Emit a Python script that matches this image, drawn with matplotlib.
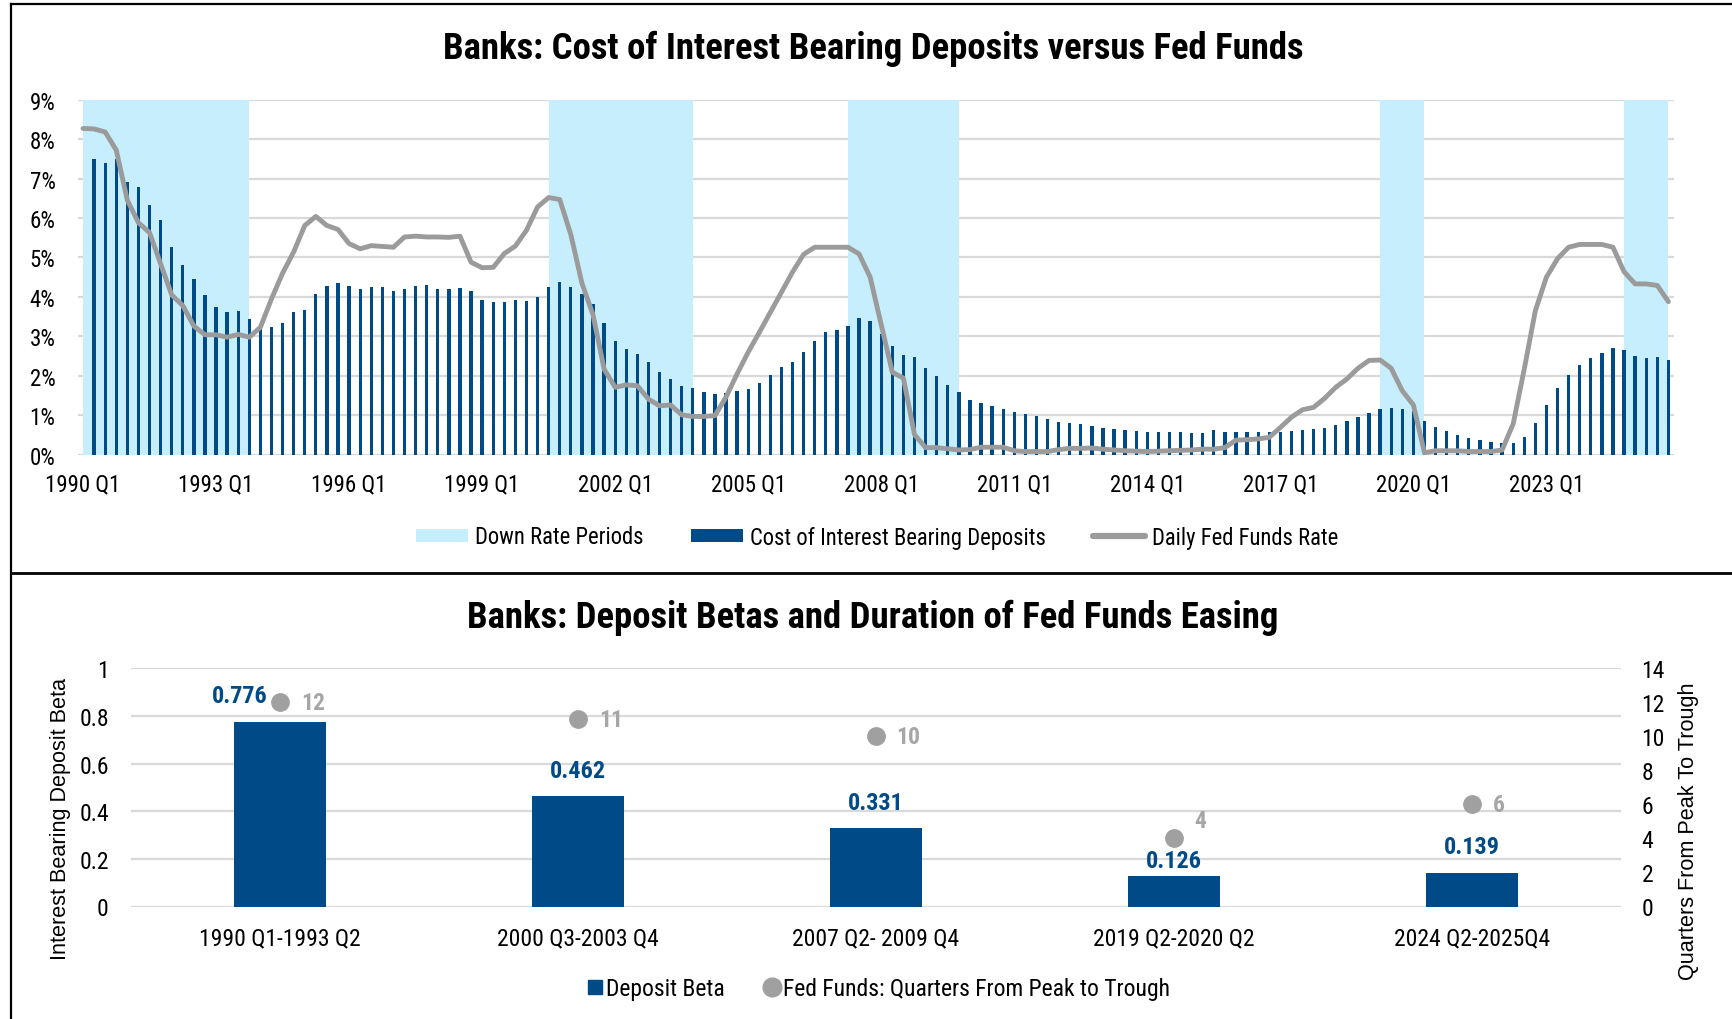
import numpy as np
import matplotlib
matplotlib.use("Agg")
import matplotlib.pyplot as plt
from matplotlib import font_manager as fm
from matplotlib.patches import Patch
from matplotlib.lines import Line2D

# ---------------- data ----------------
years = list(range(1990, 2026))
quarters = [f"{y} Q{q}" for y in years for q in range(1, 5)]

# Daily fed funds rate, quarterly average (%)
fed_funds = [
    8.27, 8.26, 8.18, 7.72, 6.45, 5.88, 5.63, 4.84, 4.05, 3.78,
    3.26, 3.04, 3.04, 2.98, 3.05, 2.98, 3.23, 3.95, 4.60, 5.14,
    5.81, 6.04, 5.81, 5.71, 5.35, 5.22, 5.30, 5.28, 5.26, 5.52,
    5.54, 5.52, 5.52, 5.51, 5.54, 4.88, 4.74, 4.75, 5.10, 5.29,
    5.69, 6.28, 6.52, 6.47, 5.58, 4.35, 3.55, 2.17, 1.71, 1.77,
    1.75, 1.41, 1.24, 1.26, 1.01, 0.97, 0.97, 0.99, 1.46, 2.05,
    2.60, 3.10, 3.61, 4.12, 4.63, 5.08, 5.26, 5.26, 5.26, 5.26,
    5.09, 4.50, 3.30, 2.09, 1.94, 0.51, 0.18, 0.18, 0.15, 0.12,
    0.13, 0.19, 0.19, 0.19, 0.10, 0.08, 0.08, 0.08, 0.13, 0.16,
    0.16, 0.17, 0.14, 0.12, 0.10, 0.09, 0.08, 0.09, 0.10, 0.11,
    0.12, 0.14, 0.14, 0.18, 0.37, 0.38, 0.40, 0.44, 0.69, 0.95,
    1.14, 1.20, 1.43, 1.71, 1.92, 2.19, 2.39, 2.40, 2.19, 1.62,
    1.26, 0.05, 0.10, 0.10, 0.10, 0.08, 0.08, 0.08, 0.12, 0.78,
    2.17, 3.65, 4.50, 4.97, 5.26, 5.33, 5.33, 5.33, 5.26, 4.64,
    4.33, 4.33, 4.29, 3.88,
]

# Cost of interest bearing deposits (%); no value for the first quarter
deposit_cost = [
    np.nan, 7.50, 7.39, 7.50, 6.92, 6.78, 6.34, 5.96, 5.27, 4.81,
    4.45, 4.05, 3.75, 3.63, 3.65, 3.43, 3.20, 3.24, 3.34, 3.63,
    3.68, 4.08, 4.27, 4.36, 4.28, 4.21, 4.24, 4.25, 4.14, 4.21,
    4.28, 4.31, 4.19, 4.20, 4.23, 4.15, 3.91, 3.87, 3.87, 3.91,
    3.90, 4.00, 4.24, 4.37, 4.26, 4.08, 3.82, 3.34, 2.87, 2.67,
    2.55, 2.35, 2.09, 1.92, 1.75, 1.68, 1.58, 1.54, 1.57, 1.62,
    1.66, 1.83, 2.02, 2.23, 2.36, 2.61, 2.89, 3.12, 3.17, 3.27,
    3.47, 3.38, 3.05, 2.75, 2.54, 2.47, 2.19, 1.99, 1.77, 1.58,
    1.39, 1.31, 1.23, 1.16, 1.07, 1.02, 0.97, 0.91, 0.84, 0.81,
    0.77, 0.73, 0.67, 0.64, 0.63, 0.60, 0.58, 0.58, 0.58, 0.58,
    0.55, 0.55, 0.63, 0.58, 0.57, 0.57, 0.58, 0.58, 0.58, 0.60,
    0.63, 0.65, 0.67, 0.75, 0.86, 0.96, 1.05, 1.15, 1.18, 1.16,
    1.10, 0.85, 0.71, 0.61, 0.50, 0.42, 0.37, 0.33, 0.29, 0.30,
    0.45, 0.80, 1.25, 1.70, 2.03, 2.28, 2.46, 2.59, 2.70, 2.65,
    2.51, 2.45, 2.48, 2.40,
]

# Fed easing periods (first and last quarter shaded)
down_rate_start = ["1990 Q1", "2000 Q3", "2007 Q2", "2019 Q2", "2024 Q4"]
down_rate_end = ["1993 Q4", "2003 Q4", "2009 Q4", "2020 Q2", "2025 Q4"]

# Deposit betas by easing cycle
cycles = ["1990 Q1-1993 Q2", "2000 Q3-2003 Q4", "2007 Q2- 2009 Q4",
          "2019 Q2-2020 Q2", "2024 Q2-2025Q4"]
deposit_beta = [0.776, 0.462, 0.331, 0.126, 0.139]
quarters_peak_to_trough = [12, 11, 10, 4, 6]

x_tick_labels = [f"{y} Q1" for y in range(1990, 2024, 3)]

# ---------------- style ----------------
names = {f.name for f in fm.fontManager.ttflist}
narrow = next((n for n in ["Liberation Sans Narrow", "Arial Narrow",
                           "Roboto Condensed", "Liberation Sans"] if n in names),
              "DejaVu Sans")
regular = "Liberation Sans" if "Liberation Sans" in names else "DejaVu Sans"
plt.rcParams["font.family"] = [narrow, "DejaVu Sans"]

NAVY = "#004B87"
SKY = "#C6EEFC"
GREY_LINE = "#9B9B9B"
GRID = "#D9D9D9"
DOT = "#A0A0A0"

W, H = 1733, 1020
fig = plt.figure(figsize=(W / 100, H / 100), dpi=100)


def box(left, top, right, bottom):
    return [left / W, 1 - bottom / H, (right - left) / W, (bottom - top) / H]


def style_axes(ax):
    for s in ax.spines.values():
        s.set_visible(False)
    ax.tick_params(length=0, colors="black")
    ax.set_axisbelow(True)
    ax.grid(axis="y", color=GRID, lw=1.6)
    ax.grid(axis="x", visible=False)


# ---------------- top panel ----------------
ax1 = fig.add_axes(box(77.7, 100.7, 1673.7, 455.7))
style_axes(ax1)
idx = np.arange(len(quarters))
pos = {q: i for i, q in enumerate(quarters)}

for s, e in zip(down_rate_start, down_rate_end):
    ax1.axvspan(pos[s], pos[e], ymin=0, ymax=1, color=SKY, lw=0, zorder=1)
ax1.bar(idx, deposit_cost, width=0.3, color=NAVY, zorder=2)
ax1.plot(idx, fed_funds, color=GREY_LINE, lw=3.5, zorder=3,
         solid_joinstyle="round", solid_capstyle="round")

ax1.set_xlim(-0.48, len(quarters) - 0.52)
ax1.set_ylim(0, 9)
ax1.set_yticks(range(0, 10))
ax1.set_yticklabels([f"{v}%" for v in range(0, 10)], fontsize=16.5)
ax1.set_xticks([pos[t] for t in x_tick_labels])
ax1.set_xticklabels(x_tick_labels, fontsize=16.5)
ax1.tick_params(axis="y", pad=16)
ax1.tick_params(axis="x", pad=13)

fig.text(873 / W, 1 - 49 / H,
         "Banks: Cost of Interest Bearing Deposits versus Fed Funds",
         ha="center", va="center", fontsize=26.5, fontweight="bold")

top_handles = [
    Patch(facecolor=SKY, edgecolor="none", label="Down Rate Periods"),
    Patch(facecolor=NAVY, edgecolor="none", label="Cost of Interest Bearing Deposits"),
    Line2D([], [], color=GREY_LINE, lw=4.5, solid_capstyle="round",
           label="Daily Fed Funds Rate"),
]
fig.legend(handles=top_handles, loc="center", bbox_to_anchor=(877 / W, 1 - 538 / H),
           ncol=3, frameon=False, fontsize=16.3, handlelength=2.3, handleheight=0.55,
           handletextpad=0.3, columnspacing=2.1, borderpad=0)

# ---------------- bottom panel ----------------
ax2 = fig.add_axes(box(131, 669.3, 1620.7, 907.5))
style_axes(ax2)
cx = np.arange(len(cycles))
ax2.bar(cx, deposit_beta, width=0.31, color=NAVY, zorder=2)
ax2.set_xlim(-0.5, len(cycles) - 0.5)
ax2.set_ylim(0, 1)
ax2.set_yticks(np.arange(0, 1.01, 0.2))
ax2.set_yticklabels(["0", "0.2", "0.4", "0.6", "0.8", "1"], fontsize=17)
ax2.set_xticks(cx)
ax2.set_xticklabels(cycles, fontsize=17)
ax2.tick_params(axis="y", pad=16)
ax2.tick_params(axis="x", pad=14)

beta_offsets = [(-29, 18.7), (0, 18.7), (0, 18), (0, 11.5), (0, 19.5)]
for i, (v, off) in enumerate(zip(deposit_beta, beta_offsets)):
    ax2.annotate(f"{v:.3f}", (i, v), xytext=off, textcoords="offset points",
                 ha="center", va="center", fontsize=17.5, fontweight="bold",
                 color=NAVY, zorder=5)

ax3 = ax2.twinx()
for s in ax3.spines.values():
    s.set_visible(False)
ax3.set_ylim(0, 14)
ax3.set_yticks(range(0, 15, 2))
ax3.set_yticklabels([str(v) for v in range(0, 15, 2)], fontsize=17)
ax3.tick_params(length=0, pad=15)
ax3.plot(cx, quarters_peak_to_trough, ls="none", marker="o", ms=12.5,
         color=DOT, mec=DOT, zorder=4)
dot_offsets = [(15, 0), (15, 0), (15, 0), (15, 13), (15, 0)]
for i, (v, off) in enumerate(zip(quarters_peak_to_trough, dot_offsets)):
    ax3.annotate(str(v), (i, v), xytext=off, textcoords="offset points",
                 ha="left", va="center", fontsize=17, fontweight="bold",
                 color="#A6A6A6")

fig.text(873 / W, 1 - 618 / H,
         "Banks: Deposit Betas and Duration of Fed Funds Easing",
         ha="center", va="center", fontsize=26.5, fontweight="bold")
fig.text(61 / W, 1 - 819 / H, "Interest Bearing Deposit Beta", rotation=90,
         ha="center", va="center", fontsize=15.6, family=[regular, "DejaVu Sans"])
fig.text(1689 / W, 1 - 831 / H, "Quarters From Peak To Trough", rotation=90,
         ha="center", va="center", fontsize=15.6, family=[regular, "DejaVu Sans"])

bottom_handles = [
    Line2D([], [], ls="none", marker="s", ms=10, color=NAVY, label="Deposit Beta"),
    Line2D([], [], ls="none", marker="o", ms=13.5, color=DOT,
           label="Fed Funds: Quarters From Peak to Trough"),
]
fig.legend(handles=bottom_handles, loc="center", bbox_to_anchor=(879 / W, 1 - 990 / H),
           ncol=2, frameon=False, fontsize=17, handlelength=0.6,
           handletextpad=0.15, columnspacing=1.7, borderpad=0)

# ---------------- panel frame ----------------
frame_kw = dict(color="black", lw=1.6, transform=fig.transFigure, clip_on=False)
fig.add_artist(Line2D([11 / W, 11 / W], [0, 1 - 5 / H], **frame_kw))
fig.add_artist(Line2D([11 / W, 1], [1 - 5 / H, 1 - 5 / H], **frame_kw))
fig.add_artist(Line2D([11 / W, 1], [1 - 573.5 / H, 1 - 573.5 / H],
                      color="black", lw=2.0, transform=fig.transFigure))

fig.savefig("out.png", dpi=100, facecolor="white")
